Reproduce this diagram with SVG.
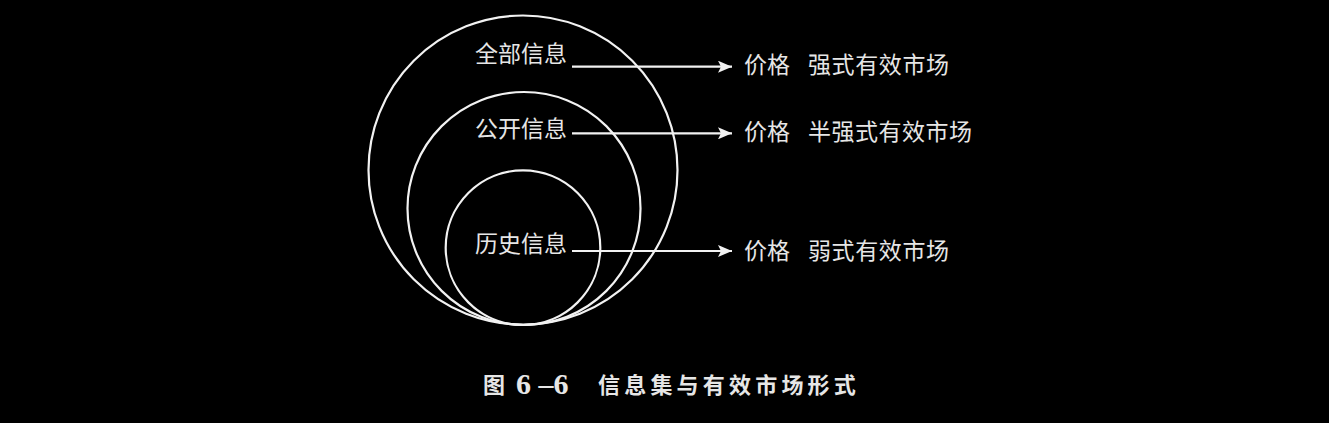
<svg xmlns="http://www.w3.org/2000/svg" width="1329" height="423" viewBox="0 0 1329 423">
<defs>
<marker id="ah" markerWidth="14" markerHeight="12" refX="14" refY="6" orient="auto" markerUnits="userSpaceOnUse">
<path d="M0,0 L14,6 L0,12 L3,6 Z" fill="#f2f2f2"/>
</marker>
<style>
.c{fill:none;stroke:#f2f2f2;stroke-width:2.2}
.t{font-family:"Noto Sans CJK SC","Noto Sans",sans-serif;font-size:23px;fill:#e6e6e6}
.cap{font-family:"Noto Sans CJK SC","Noto Sans",sans-serif;font-size:22px;font-weight:bold;fill:#e6e6e6}
.num{font-family:"Liberation Serif",serif;font-size:30px;font-weight:bold;fill:#e6e6e6}
.a{stroke:#f2f2f2;stroke-width:2.2;fill:none}
</style>
</defs>
<rect width="1329" height="423" fill="#000"/>
<g id="all-info">
<circle class="c" cx="523" cy="170" r="154.5"/>
<text class="t" x="475" y="62">全部信息</text>
</g>
<g id="public-info">
<circle class="c" cx="524" cy="208.5" r="116.5"/>
<text class="t" x="475" y="137">公开信息</text>
</g>
<g id="history-info">
<circle class="c" cx="523" cy="247.7" r="77.3"/>
<text class="t" x="475" y="252">历史信息</text>
</g>
<g id="strong">
<text class="t" x="744" y="73">价格</text>
<text class="t" x="808" y="73" textLength="141">强式有效市场</text>
</g>
<g id="semi-strong">
<text class="t" x="744" y="140">价格</text>
<text class="t" x="808" y="140" textLength="164">半强式有效市场</text>
</g>
<g id="weak">
<text class="t" x="744" y="259">价格</text>
<text class="t" x="808" y="259" textLength="141">弱式有效市场</text>
</g>
<g id="connectors">
<line class="a" x1="572" y1="66.7" x2="732" y2="66.7" marker-end="url(#ah)"/>
<line class="a" x1="572" y1="133.3" x2="732" y2="133.3" marker-end="url(#ah)"/>
<line class="a" x1="572" y1="251" x2="732" y2="251" marker-end="url(#ah)"/>
</g>
<g id="caption">
<text class="cap" x="483" y="393">图</text>
<text class="num" x="516" y="394">6 –6</text>
<text class="cap" x="598" y="393" letter-spacing="4.2">信息集与有效市场形式</text>
</g>
</svg>
